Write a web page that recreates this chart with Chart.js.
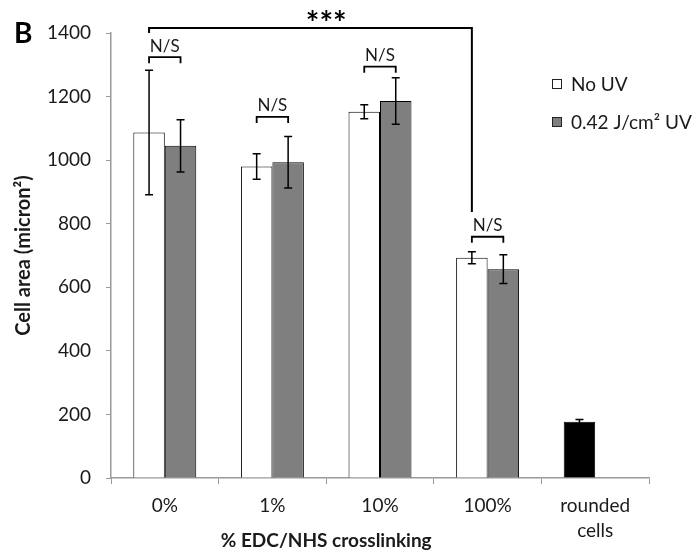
<!DOCTYPE html>
<html>
<head>
<meta charset="utf-8">
<script src="https://cdn.jsdelivr.net/npm/chart.js@4.4.1/dist/chart.umd.min.js"></script>
<style>
  html, body { margin: 0; padding: 0; background: #fff; }
  #wrap { width: 693px; height: 556px; }
</style>
</head>
<body>
<div id="wrap"><canvas id="cellArea" width="693" height="556"></canvas></div>
<script>
// ── data ──────────────────────────────────────────────────────
const categories = ['0%', '1%', '10%', '100%', ['rounded', 'cells']];
const noUV      = [1087, 980, 1152, 693, 177];
const noUVErr   = [196, 40, 22, 19, 7];
const withUV    = [1045, 993, 1186, 657, null];
const withUVErr = [82, 81, 73, 45, null];
const seriesLabels = ['No UV', '0.42 J/cm\u00B2 UV'];
const yMin = 0, yMax = 1400, yStep = 200;

// significance brackets (levels in micron²)
const nsLevels = [1324, 1136, 1294, 759];          // N/S over each UV pair
const starBracket = { from: 0, to: 3, level: 1416, leftDrop: 1400, rightDrop: 837, text: '***' };

const FONT = 'Lato, "Open Sans", sans-serif';
const COLORS = {
  white: '#ffffff',
  gray: '#7f7f7f',
  black: '#000000',
  axis: '#9a9a9a',
  text: '#1a1a1a',
};

// centre of the four crosslinking groups, used for the *** text and x title
function groupCentre(chart) {
  const x = chart.scales.x;
  return (x.getPixelForValue(0) + x.getPixelForValue(3)) / 2;
}

const overlay = {
  id: 'overlay',
  afterDatasetsDraw(chart) {
    const { ctx, scales: { y } } = chart;
    ctx.save();
    ctx.strokeStyle = COLORS.black;
    ctx.lineWidth = 1.5;
    chart.data.datasets.forEach((ds, di) => {
      const meta = chart.getDatasetMeta(di);
      meta.data.forEach((bar, i) => {
        const v = ds.data[i];
        if (v == null) return;
        const e = ds.errors[i];
        const top = y.getPixelForValue(v + e), bot = y.getPixelForValue(v - e);
        ctx.beginPath();
        ctx.moveTo(bar.x, top); ctx.lineTo(bar.x, bot);
        ctx.moveTo(bar.x - 4, top); ctx.lineTo(bar.x + 4, top);
        ctx.moveTo(bar.x - 4, bot); ctx.lineTo(bar.x + 4, bot);
        ctx.stroke();
      });
    });
    ctx.restore();
  },
  afterDraw(chart) {
    const { ctx, chartArea, scales: { y } } = chart;
    const m0 = chart.getDatasetMeta(0), m1 = chart.getDatasetMeta(1);
    const cx = groupCentre(chart);
    ctx.save();
    ctx.strokeStyle = COLORS.black;
    ctx.fillStyle = COLORS.text;

    // N/S brackets
    ctx.lineWidth = 1.8;
    ctx.font = '17px ' + FONT;
    ctx.textAlign = 'center';
    ctx.textBaseline = 'middle';
    nsLevels.forEach((lvl, i) => {
      const x1 = m0.data[i].x, x2 = m1.data[i].x, yy = y.getPixelForValue(lvl);
      ctx.beginPath();
      ctx.moveTo(x1, yy + 6); ctx.lineTo(x1, yy); ctx.lineTo(x2, yy); ctx.lineTo(x2, yy + 6);
      ctx.stroke();
      ctx.fillText('N/S', (x1 + x2) / 2, yy - 11);
    });

    // *** bracket
    const sx1 = m0.data[starBracket.from].x, sx2 = m0.data[starBracket.to].x;
    const sy = y.getPixelForValue(starBracket.level);
    ctx.lineWidth = 2;
    ctx.beginPath();
    ctx.moveTo(sx1, y.getPixelForValue(starBracket.leftDrop));
    ctx.lineTo(sx1, sy); ctx.lineTo(sx2, sy);
    ctx.lineTo(sx2, y.getPixelForValue(starBracket.rightDrop));
    ctx.stroke();
    ctx.font = 'bold 32px ' + FONT;
    ctx.fillStyle = COLORS.black;
    ctx.fillText(starBracket.text, cx, sy - 3);

    // legend
    ctx.font = '19px ' + FONT;
    ctx.textAlign = 'left';
    chart.data.datasets.forEach((ds, i) => {
      const lx = chartArea.right - 97, ly = 84 + i * 38;
      ctx.fillStyle = ds.swatch;
      ctx.fillRect(lx, ly - 5, 10, 10);
      ctx.lineWidth = 1;
      ctx.strokeStyle = '#222';
      ctx.strokeRect(lx + 0.5, ly - 4.5, 9, 9);
      ctx.fillStyle = COLORS.text;
      ctx.fillText(ds.label, lx + 19, ly + 1);
    });

    // x-axis title
    ctx.font = 'bold 19px ' + FONT;
    ctx.textAlign = 'center';
    ctx.fillText('% EDC/NHS crosslinking', cx, 541);

    // panel letter
    ctx.font = 'bold 28px ' + FONT;
    ctx.textAlign = 'left';
    ctx.textBaseline = 'alphabetic';
    ctx.fillStyle = COLORS.black;
    ctx.fillText('B', 14, 43);
    ctx.restore();
  }
};

new Chart(document.getElementById('cellArea'), {
  type: 'bar',
  data: {
    labels: categories,
    datasets: [
      {
        label: seriesLabels[0], data: noUV, errors: noUVErr, swatch: COLORS.white,
        backgroundColor: [COLORS.white, COLORS.white, COLORS.white, COLORS.white, COLORS.black],
        borderColor: COLORS.black, borderWidth: 1,
      },
      {
        label: seriesLabels[1], data: withUV, errors: withUVErr, swatch: COLORS.gray,
        backgroundColor: COLORS.gray, borderColor: COLORS.black, borderWidth: 1,
      },
    ],
  },
  options: {
    responsive: false, animation: false, devicePixelRatio: 1,
    layout: { padding: { top: 33, right: 44, left: 0, bottom: 0 } },
    datasets: { bar: { categoryPercentage: 0.585, barPercentage: 1.0 } },
    plugins: { legend: { display: false }, tooltip: { enabled: false } },
    scales: {
      x: {
        afterFit(scale) { scale.height = 78; },
        grid: { drawOnChartArea: false, color: COLORS.axis, tickLength: 6, offset: true },
        border: { color: COLORS.axis, width: 1.5 },
        ticks: { color: COLORS.text, font: { family: FONT, size: 19, lineHeight: 1.3 }, padding: 10, maxRotation: 0 },
      },
      y: {
        min: yMin, max: yMax,
        afterFit(scale) { scale.width = 111; },
        grid: { drawOnChartArea: false, color: COLORS.axis, tickLength: 5 },
        border: { color: COLORS.axis, width: 1.5 },
        ticks: {
          stepSize: yStep, color: COLORS.text, font: { family: FONT, size: 19 }, padding: 15,
          callback: v => String(v),
        },
        title: {
          display: true, text: 'Cell area (micron\u00B2)', color: COLORS.text,
          font: { family: FONT, size: 20, weight: 'bold' }, padding: { top: 12, bottom: 0 },
        },
      },
    },
  },
  plugins: [overlay],
});
</script>
</body>
</html>
